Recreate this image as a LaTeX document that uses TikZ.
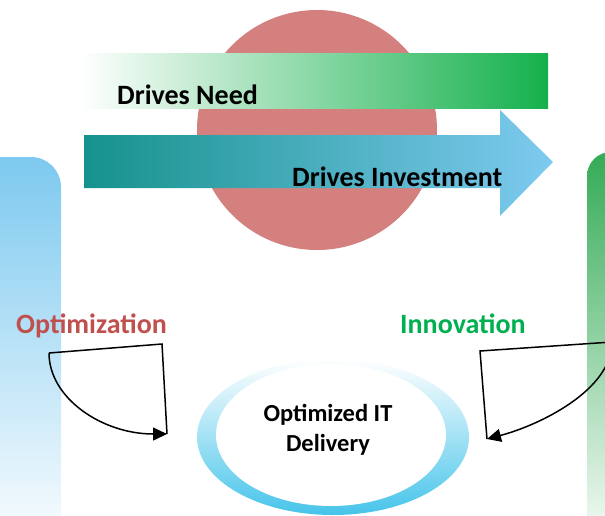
\documentclass[tikz,border=0pt]{standalone}
\usepackage{fontspec}
\setmainfont{Carlito}
\usetikzlibrary{arrows.meta}
\definecolor{discred}{RGB}{211,128,126}
\definecolor{needgreen}{RGB}{20,176,76}
\definecolor{investteal}{RGB}{22,146,140}
\definecolor{investblue}{RGB}{126,202,240}
\definecolor{optred}{RGB}{192,80,77}
\definecolor{innovgreen}{RGB}{0,176,80}
\definecolor{sideblue}{RGB}{125,201,239}
\definecolor{sidegreen}{RGB}{52,171,86}
\definecolor{ringblue}{RGB}{70,196,234}
\tikzset{
        bartext/.style={anchor=base west, inner sep=0pt, font=\fontsize{28}{34}\selectfont\bfseries},
        sidetext/.style={bartext},
        coretext/.style={align=center, inner sep=0pt, font=\fontsize{24.5}{30}\selectfont\bfseries},
        curl/.style={draw=black, line width=1.5pt},
        curltip/.style={curl, -{Triangle[length=14pt, width=13pt]}}
          }
\begin{document}
\begin{tikzpicture}[x=1pt, y=-1pt]
            \useasboundingbox (0,0) rectangle (605,515);
            \shade[top color=sideblue, bottom color=sideblue!5, rounded corners=30pt] (-40,157) rectangle (61,540);
            \shade[top color=sidegreen, bottom color=sidegreen!5, rounded corners=24pt] (587,152) rectangle (660,540);
            \fill[discred] (317,130) circle[radius=120pt];
            \shade[left color=white, middle color=needgreen!25, right color=needgreen] (80,53) rectangle (548,108);
            \shade[left color=investteal, right color=investblue] (84,135) -- (500,135) -- (500,110) -- (553,162)
              -- (500,216) -- (500,188) -- (84,188) -- cycle;
            \shade[top color=white, middle color=ringblue!40, bottom color=ringblue] (333,437) ellipse[x radius=136pt, y radius=78pt];
            \fill[white] (331,435) ellipse[x radius=115pt, y radius=71pt];
            \node[bartext] (need) at (117,104) {Drives Need};
            \node[bartext] (invest) at (292,186) {Drives Investment};
            \node[sidetext, text=optred] (optim) at (16,333) {Optimization};
            \node[sidetext, text=innovgreen] (innov) at (400,333) {Innovation};
            \node[coretext] (core) at (328,430) {Optimized IT\\Delivery};
            \coordinate (optA) at (49,353);
            \coordinate (optB) at (162,344);
            \coordinate (optC) at (167,434);
            \coordinate (innA) at (612,342);
            \coordinate (innB) at (480,351);
            \coordinate (innC) at (487,439);
            \draw[curl] (optA) -- (optB) -- (optC);
            \draw[curltip] (optA) .. controls (49,398) and (102,434) .. (optC);
            \draw[curl] (innA) -- (innB) -- (innC);
            \draw[curltip] (innA) .. controls (612,390) and (540,425) .. (innC);
          \end{tikzpicture}
\end{document}
